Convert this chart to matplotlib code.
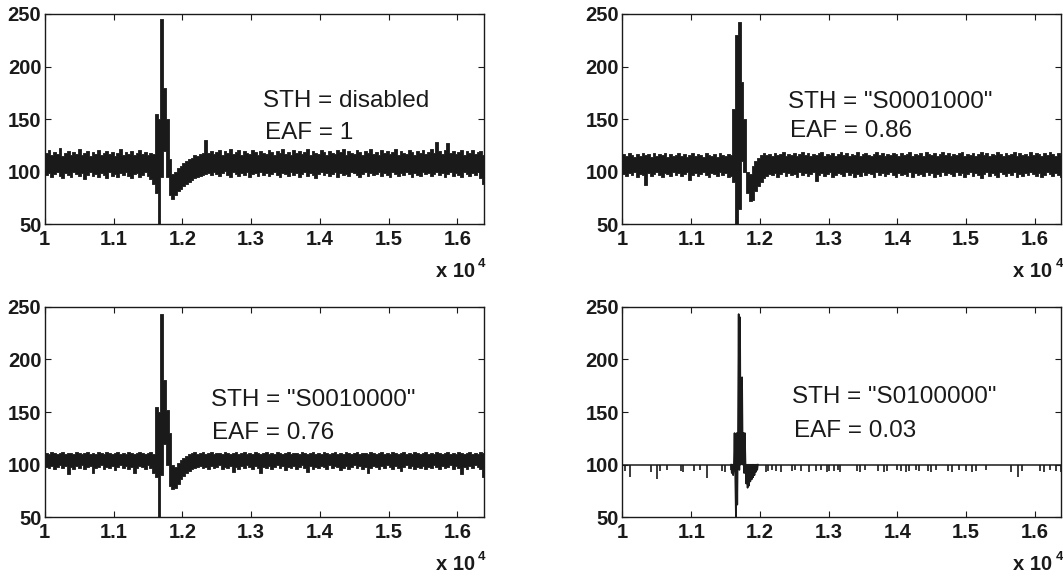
import numpy as np
import matplotlib
matplotlib.use("Agg")
import matplotlib.pyplot as plt

# the three dense traces are kept as min / max per bin of 40 samples
BIN_START = 10000
BIN_WIDTH = 40

# STH disabled, EAF = 1
p1_hi = [
    118, 121, 116, 119, 117, 123, 115, 118, 120, 116, 119, 117, 122, 116, 118, 120, 115, 119, 117, 121,
    116, 118, 120, 117, 119, 115, 118, 122, 116, 119, 117, 120, 116, 118, 121, 117, 119, 116, 118, 117,
    155, 150, 245, 180, 150, 112, 98, 100, 104, 105, 108, 110, 112, 113, 116, 115, 117, 118, 130, 118,
    120, 117, 119, 121, 116, 120, 118, 122, 117, 119, 121, 116, 120, 118, 117, 121, 119, 116, 120, 118,
    117, 121, 119, 116, 120, 118, 122, 117, 119, 116, 121, 118, 120, 117, 119, 122, 116, 120, 118, 117,
    121, 119, 116, 120, 118, 117, 121, 119, 122, 116, 120, 118, 117, 121, 119, 116, 120, 118, 122, 117,
    119, 116, 121, 118, 120, 117, 119, 122, 116, 120, 118, 117, 121, 119, 116, 120, 118, 121, 117, 119,
    122, 118, 128, 120, 117, 121, 127, 118, 120, 117, 119, 121, 116, 120, 118, 121, 117, 119, 120, 116,
]
p1_lo = [
    97, 99, 95, 98, 100, 96, 94, 99, 97, 95, 100, 98, 96, 99, 93, 97, 100, 96, 98, 95,
    99, 97, 94, 100, 96, 98, 95, 99, 97, 100, 96, 94, 98, 99, 95, 97, 100, 96, 93, 88,
    80, 50, 95, 120, 95, 78, 74, 78, 82, 84, 86, 88, 90, 92, 94, 95, 96, 97, 98, 99,
    97, 100, 98, 96, 99, 101, 97, 95, 100, 98, 96, 99, 97, 100, 95, 98, 99, 96, 100, 97,
    99, 96, 98, 100, 97, 95, 99, 98, 96, 100, 97, 99, 95, 98, 100, 96, 99, 97, 94, 98,
    100, 97, 99, 96, 98, 100, 95, 99, 97, 98, 96, 100, 99, 97, 95, 98, 100, 96, 99, 97,
    98, 100, 96, 99, 97, 95, 100, 98, 96, 99, 97, 100, 98, 95, 99, 97, 96, 100, 98, 99,
    96, 98, 100, 97, 99, 95, 98, 100, 96, 99, 97, 95, 100, 98, 96, 99, 97, 100, 94, 88,
]

# STH = "S0001000", EAF = 0.86
p2_hi = [
    117, 115, 118, 116, 114, 117, 115, 118, 116, 117, 114, 118, 115, 117, 116, 118, 114, 117, 115, 116,
    118, 115, 117, 114, 116, 118, 115, 117, 116, 114, 118, 116, 115, 117, 114, 118, 116, 115, 117, 116,
    160, 230, 242, 185, 150, 100, 98, 105, 110, 113, 116, 118, 116, 117, 115, 118, 116, 117, 119, 115,
    117, 116, 118, 115, 117, 119, 116, 118, 115, 117, 116, 118, 119, 115, 117, 116, 118, 115, 117, 119,
    116, 118, 115, 117, 116, 119, 115, 117, 118, 116, 115, 117, 119, 116, 118, 115, 117, 116, 118, 117,
    115, 118, 116, 117, 119, 115, 117, 116, 118, 115, 119, 117, 116, 118, 115, 117, 119, 116, 118, 115,
    117, 116, 118, 119, 115, 117, 116, 118, 115, 117, 119, 116, 118, 115, 117, 116, 119, 117, 115, 118,
    116, 117, 119, 115, 118, 116, 117, 115, 119, 116, 118, 117, 115, 118, 116, 119, 117, 115, 118, 116,
]
p2_lo = [
    98, 96, 99, 97, 100, 95, 98, 97, 87, 99, 96, 98, 100, 97, 95, 99, 98, 96, 100, 97,
    99, 96, 98, 100, 92, 97, 99, 96, 98, 100, 97, 95, 99, 98, 96, 100, 97, 99, 95, 96,
    90, 50, 65, 110, 100, 80, 72, 73, 82, 86, 90, 94, 96, 98, 97, 99, 95, 98, 100, 96,
    99, 97, 98, 95, 100, 97, 99, 96, 98, 100, 91, 97, 99, 96, 98, 100, 95, 97, 99, 98,
    96, 100, 97, 99, 95, 98, 96, 100, 97, 99, 98, 95, 100, 97, 99, 96, 98, 100, 97, 95,
    99, 97, 98, 96, 100, 95, 99, 97, 98, 96, 100, 97, 99, 95, 98, 96, 100, 97, 99, 98,
    96, 100, 97, 99, 95, 98, 100, 96, 99, 97, 94, 98, 100, 96, 99, 97, 95, 100, 98, 96,
    99, 97, 100, 95, 98, 96, 99, 97, 100, 98, 96, 99, 95, 97, 100, 98, 96, 99, 97, 95,
]

# STH = "S0010000", EAF = 0.76
p3_hi = [
    111, 110, 112, 111, 110, 111, 112, 110, 111, 111, 110, 112, 111, 110, 111, 112, 110, 111, 110, 112,
    111, 110, 112, 111, 110, 111, 112, 110, 111, 110, 112, 111, 110, 111, 112, 111, 110, 111, 112, 110,
    155, 150, 243, 180, 152, 130, 100, 98, 102, 104, 106, 108, 110, 111, 112, 110, 111, 112, 110, 111,
    112, 110, 111, 111, 110, 112, 111, 110, 111, 112, 110, 111, 112, 110, 111, 110, 112, 111, 110, 111,
    112, 110, 111, 110, 112, 111, 110, 111, 112, 110, 111, 111, 110, 112, 111, 110, 111, 112, 110, 111,
    110, 112, 111, 110, 111, 112, 110, 111, 110, 112, 111, 110, 111, 112, 110, 111, 111, 110, 112, 111,
    110, 111, 112, 110, 111, 110, 112, 111, 110, 111, 112, 110, 111, 110, 112, 111, 110, 111, 112, 110,
    111, 110, 112, 111, 110, 111, 112, 110, 111, 110, 112, 111, 110, 111, 112, 110, 111, 110, 112, 111,
]
p3_lo = [
    98, 97, 99, 96, 98, 100, 97, 99, 91, 98, 96, 99, 97, 100, 96, 98, 99, 92, 97, 98,
    100, 96, 98, 97, 99, 95, 98, 100, 97, 99, 96, 98, 92, 97, 99, 98, 96, 100, 97, 92,
    88, 50, 90, 120, 100, 80, 77, 78, 82, 86, 89, 92, 94, 96, 97, 98, 99, 97, 98, 96,
    99, 97, 98, 100, 96, 98, 97, 99, 93, 98, 96, 99, 97, 100, 98, 96, 99, 97, 92, 98,
    97, 99, 96, 98, 100, 97, 99, 95, 98, 97, 99, 96, 98, 100, 97, 93, 99, 96, 98, 97,
    99, 98, 96, 100, 97, 99, 98, 95, 97, 99, 96, 98, 100, 97, 99, 96, 98, 92, 97, 99,
    98, 96, 99, 97, 100, 98, 96, 99, 97, 94, 98, 100, 97, 99, 96, 98, 97, 99, 96, 98,
    97, 100, 98, 96, 99, 97, 98, 100, 96, 99, 97, 91, 98, 96, 99, 97, 100, 98, 96, 88,
]

# STH = "S0100000", EAF = 0.03 : flat level with sparse dips, plus the event
s4_level = 100
s4_dip_x = [10040, 10114, 10411, 10495, 10550, 10649, 10847, 10881, 11045, 11129,
            11228, 11441, 11485, 11574, 12094, 12119, 12178, 12228, 12307, 12465,
            12514, 12604, 12712, 12811, 12886, 12975, 13009, 13074, 13133, 13168,
            13405, 13455, 13529, 13712, 13801, 13841, 13989, 14049, 14123, 14172,
            14271, 14321, 14444, 14484, 14568, 14731, 14791, 14890, 15003, 15088,
            15137, 15285, 15657, 15756, 15805, 16077, 16127, 16226, 16300, 16374]
s4_dip_y = [94, 88, 93, 86, 94, 95, 94, 93, 94, 95,
            87, 94, 93, 95, 93, 94, 95, 94, 93, 94,
            95, 94, 93, 94, 95, 93, 94, 94, 95, 93,
            94, 93, 95, 94, 93, 94, 95, 94, 93, 94,
            95, 94, 94, 93, 95, 94, 93, 95, 94, 93,
            94, 95, 93, 88, 94, 94, 93, 95, 94, 93]
s4_event_x = [11580, 11590, 11600, 11610, 11620, 11630, 11640, 11650, 11660, 11670,
              11680, 11690, 11700, 11710, 11720, 11730, 11740, 11750, 11760, 11770,
              11780, 11790, 11800, 11810, 11820, 11830, 11840, 11850, 11860, 11870,
              11880, 11890, 11900, 11910, 11920, 11930, 11940, 11950, 11960, 11970]
s4_event_y = [100, 92, 100, 90, 98, 130, 90, 50, 130, 62,
              130, 243, 95, 240, 100, 130, 183, 100, 130, 92,
              130, 100, 82, 100, 78, 100, 80, 100, 84, 100,
              86, 100, 88, 100, 90, 100, 93, 100, 95, 100]

sth_labels = ['STH = disabled', 'STH = "S0001000"', 'STH = "S0010000"', 'STH = "S0100000"']
eaf_labels = ['EAF = 1', 'EAF = 0.86', 'EAF = 0.76', 'EAF = 0.03']

x_ticks = [10000, 11000, 12000, 13000, 14000, 15000, 16000]
x_tick_labels = ['1', '1.1', '1.2', '1.3', '1.4', '1.5', '1.6']
y_ticks = [50, 100, 150, 200, 250]

INK = '#1a1a1a'
TICK_FONT = dict(family='Liberation Sans', weight='bold', size=14.5)
NOTE_FONT = dict(family='Liberation Sans', size=17.5)


def draw_envelope(ax, lo, hi):
    """Dense trace drawn as its per-bin min/max envelope."""
    lo = np.asarray(lo, dtype=float)
    hi = np.asarray(hi, dtype=float)
    edges = BIN_START + BIN_WIDTH * np.arange(len(lo) + 1)
    lo = np.append(lo, lo[-1])
    hi = np.append(hi, hi[-1])
    ax.fill_between(edges, lo, hi, step='post', facecolor=INK, edgecolor=INK, lw=0.6)


fig = plt.figure(figsize=(10.63, 5.76), dpi=100)

# axes boxes [left, bottom, width, height] in figure fraction
boxes = [
    [0.0421, 0.6106, 0.413, 0.3651],
    [0.5856, 0.6106, 0.4128, 0.3651],
    [0.0421, 0.1019, 0.413, 0.3656],
    [0.5856, 0.1019, 0.4128, 0.3656],
]
# text anchors (axes fraction): STH line, EAF line
note_pos = [
    ((0.498, 0.556), (0.5025, 0.404)),
    ((0.3777, 0.5516), (0.3815, 0.4137)),
    ((0.378, 0.530), (0.380, 0.372)),
    ((0.3854, 0.541), (0.3916, 0.380)),
]

traces = [(p1_lo, p1_hi), (p2_lo, p2_hi), (p3_lo, p3_hi)]

for k, box in enumerate(boxes):
    ax = fig.add_axes(box)
    if k < 3:
        draw_envelope(ax, *traces[k])
    else:
        ax.plot([BIN_START, s4_event_x[0]], [s4_level, s4_level], color=INK, lw=1.1)
        ax.plot([s4_event_x[-1], 16384], [s4_level, s4_level], color=INK, lw=1.1)
        ax.vlines(s4_dip_x, s4_dip_y, s4_level, color=INK, lw=1.2)
        ax.plot(s4_event_x, s4_event_y, color=INK, lw=1.2)

    ax.set_xlim(10000, 16384)
    ax.set_ylim(50, 250)
    ax.set_xticks(x_ticks)
    ax.set_xticklabels(x_tick_labels, fontdict=TICK_FONT)
    ax.set_yticks(y_ticks)
    ax.set_yticklabels([str(v) for v in y_ticks], fontdict=TICK_FONT)
    ax.tick_params(direction='in', top=True, right=True, length=4, width=0.8, colors=INK)
    ax.tick_params(axis='x', pad=4)
    ax.tick_params(axis='y', pad=2.5)
    for sp in ax.spines.values():
        sp.set_linewidth(1.0)
        sp.set_color(INK)

    (sx, sy), (ex, ey) = note_pos[k]
    ax.text(sx, sy, sth_labels[k], transform=ax.transAxes, va='baseline', ha='left',
            color=INK, **NOTE_FONT)
    ax.text(ex, ey, eaf_labels[k], transform=ax.transAxes, va='baseline', ha='left',
            color=INK, **NOTE_FONT)

    # MATLAB style exponent under the x axis
    ax.text(0.980, -0.249, 'x 10', transform=ax.transAxes, ha='right', va='baseline',
            color=INK, **TICK_FONT)
    ax.text(0.987, -0.205, '4', transform=ax.transAxes, ha='left', va='baseline',
            color=INK, family='Liberation Sans', weight='bold', size=9.5)

fig.savefig('out.png', dpi=100)
